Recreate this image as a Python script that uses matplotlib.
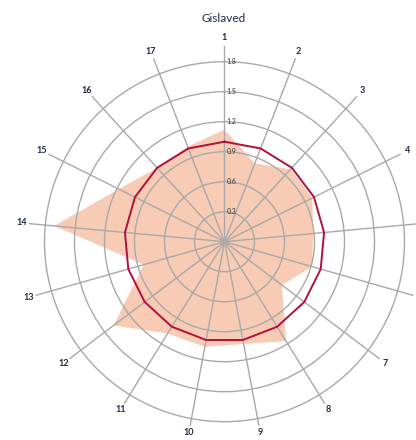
import numpy as np
from matplotlib import pyplot as plt

plt.rcParams['font.family'] = ['Lato', 'DejaVu Sans']

# data (index, 1.0 = reference level)
categories = [str(i) for i in range(1, 18)]
kommun_values = [1.12, 0.84, 0.98, 0.98, 0.89, 0.91, 0.72, 1.17, 1.04,
                 1.07, 1.08, 1.39, 0.84, 1.71, 1.18, 1.00, 1.02]
reference_values = [1.0] * 17
r_ticks = [0.3, 0.6, 0.9, 1.2, 1.5, 1.8]
title = 'Gislaved'

n = len(categories)
angles = np.arange(n) * 2 * np.pi / n

fig = plt.figure(figsize=(4.16, 4.4), dpi=100)

# center at about (224, 242) px, 100 px per unit
rmax = 2.1
rad_px = rmax * 100
ax = fig.add_axes([(224.5 - rad_px) / 416, (198.3 - rad_px) / 440,
                   2 * rad_px / 416, 2 * rad_px / 440], projection='polar')
ax.set_theta_zero_location('N')
ax.set_theta_direction(-1)
ax.set_ylim(0, rmax)

ang_closed = np.append(angles, angles[0])
ax.fill(ang_closed, kommun_values + kommun_values[:1], color='#f8cbb4', lw=0, zorder=1)
ax.plot(ang_closed, reference_values + reference_values[:1], color='#b0113c', lw=1.4, zorder=3)

ax.set_xticks([])
ax.set_yticks(r_ticks)
ax.set_yticklabels([])
ax.yaxis.grid(True, color='#a9a9a9', lw=1.0)
ax.spines['polar'].set_visible(False)
ax.tick_params(length=0)

# spokes are a bit shorter at the bottom in the original
for a, lab in zip(angles, categories):
    spoke = 1.96 + 0.1 * min(0.0, np.cos(a)) ** 3
    ax.plot([a, a], [0, spoke], color='#a9a9a9', lw=1.0, zorder=1.5)
    ax.text(a, spoke + 0.08, lab, ha='center', va='center', fontsize=6.5,
            color='#1f2a44', fontweight='bold', clip_on=False)

for r in r_ticks:
    ax.annotate(f'{r:.1f}', xy=(0, r), xytext=(1.5, 0), textcoords='offset points',
                ha='left', va='center', fontsize=5, color='#333333')

fig.text(224 / 416, 1 - 18 / 440, title, ha='center', va='center',
         fontsize=8.5, color='#1f2a44')

fig.savefig('out.png', dpi=100)
